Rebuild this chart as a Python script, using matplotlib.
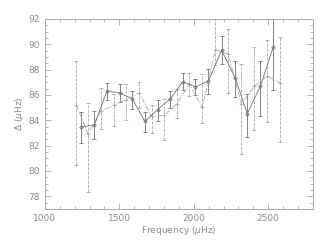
import numpy as np
import matplotlib
matplotlib.use('Agg')
from matplotlib import pyplot as plt
from matplotlib.ticker import MultipleLocator

## solid series (darker)
f_solid = [1245, 1333, 1417, 1502, 1587, 1672, 1757, 1842, 1926, 2011,
           2098, 2187, 2277, 2359, 2446, 2533]
d_solid = [83.46, 83.64, 86.30, 86.16, 85.69, 83.91, 84.84, 85.69, 87.04, 86.64,
           87.09, 89.53, 87.36, 84.52, 86.67, 89.75]
hi_solid = [84.62, 84.76, 86.96, 86.90, 86.30, 84.63, 85.58, 86.30, 87.70, 87.28,
            88.02, 90.67, 88.68, 86.08, 88.66, 93.10]
lo_solid = [82.19, 82.50, 85.58, 85.42, 84.92, 83.11, 83.91, 84.97, 86.38, 86.03,
            86.10, 88.42, 85.82, 82.64, 84.36, 86.38]

## dashed series (lighter)
f_dash = [1210, 1290, 1377, 1462, 1547, 1632, 1717, 1801, 1886, 1971,
          2056, 2145, 2232, 2319, 2406, 2491, 2578]
d_dash = [85.22, 82.93, 84.76, 85.18, 85.63, 86.16, 84.30, 84.39, 85.29, 86.85,
          85.02, 89.58, 89.20, 85.29, 86.67, 87.50, 86.96]
hi_dash = [88.68, 85.37, 86.57, 86.10, 86.83, 87.04, 85.18, 85.70, 86.43, 87.73,
           87.65, 92.60, 91.20, 88.42, 89.80, 90.33, 90.60]
lo_dash = [80.45, 78.34, 83.29, 83.56, 84.04, 84.97, 82.98, 82.45, 84.15, 85.90,
           83.80, 88.40, 86.16, 81.30, 83.25, 83.90, 82.30]

dark = '#747474'
light = '#ababab'
txt = '#8c8c8c'

fig = plt.figure(figsize=(3.25, 2.52), dpi=100)
ax = fig.add_axes([0.138, 0.171, 0.825, 0.754])

ds = np.array(d_dash)
eb = ax.errorbar(f_dash, d_dash, yerr=[ds - np.array(lo_dash), np.array(hi_dash) - ds],
                 fmt='+', ms=3, mew=0.6, color=light, ecolor=light, elinewidth=0.6,
                 capsize=1.5, capthick=0.6, ls='-.', lw=0.6)
eb[2][0].set_linestyle('--')

ss = np.array(d_solid)
ax.errorbar(f_solid, d_solid, yerr=[ss - np.array(lo_solid), np.array(hi_solid) - ss],
            fmt='D', ms=1.8, mfc='none', mew=0.6, color=dark, ecolor=dark, elinewidth=0.6,
            capsize=1.5, capthick=0.6, ls='-', lw=0.6)

ax.set_xlim(1000, 2800)
ax.set_ylim(77, 92)
ax.xaxis.set_major_locator(MultipleLocator(500))
ax.xaxis.set_minor_locator(MultipleLocator(100))
ax.yaxis.set_major_locator(MultipleLocator(2))
ax.yaxis.set_minor_locator(MultipleLocator(0.5))
ax.tick_params(which='both', direction='in', top=True, right=True, colors=light,
               labelcolor=txt, labelsize=6.5, width=0.6)
ax.tick_params(which='major', length=4)
ax.tick_params(which='minor', length=2)
for s in ax.spines.values():
    s.set_color(light)
    s.set_linewidth(0.7)
ax.set_xlabel('Frequency ($\\mu$Hz)', color=txt, fontsize=6.5, labelpad=1)
ax.set_ylabel('$\\Delta$ ($\\mu$Hz)', color=txt, fontsize=6.5, labelpad=2)

plt.savefig('out.png', dpi=100)
